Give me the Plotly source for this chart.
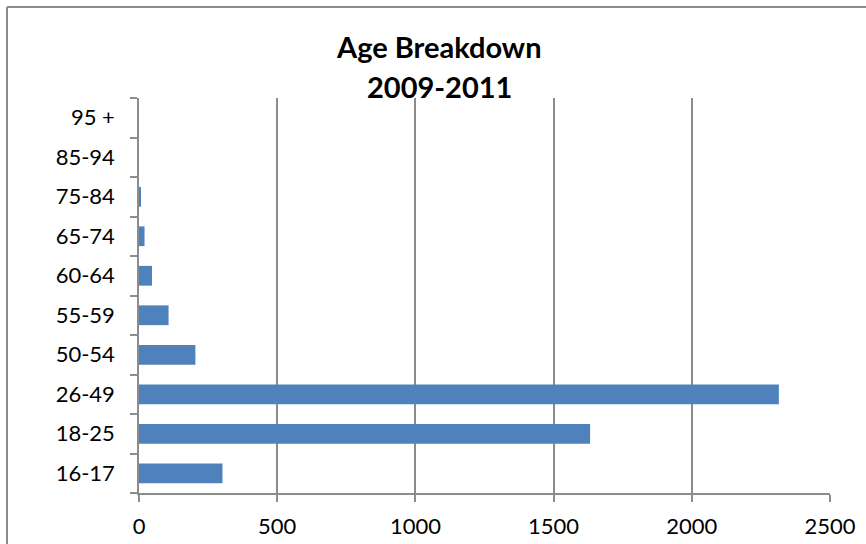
import plotly.graph_objects as go

# Age groups (bottom to top) and counts for 2009-2011
age_groups = ["16-17", "18-25", "26-49", "50-54", "55-59",
              "60-64", "65-74", "75-84", "85-94", "95 +"]
counts = [302, 1632, 2315, 204, 107, 47, 20, 6, 0, 0]
x_ticks = [0, 500, 1000, 1500, 2000, 2500]
title_lines = ["Age Breakdown", "2009-2011"]

FONT = "Lato"
GRID = "#8c8c8c"
BAR = "#4f81bd"

fig = go.Figure(
    go.Bar(
        y=age_groups,
        x=counts,
        orientation="h",
        marker=dict(color=BAR, line=dict(width=0)),
        width=0.5,
    )
)

# Plot-area geometry
L, R, T, B = 139, 36, 98, 51
W, H = 866, 544
pw, ph = W - L - R, H - T - B

# Two-line bold heading, placed in pixel terms above the plot area
title_y_px = [47, 86]
annotations = [
    dict(text=f"<b>{line}</b>", xref="paper", yref="paper",
         x=(439 - L) / pw, y=(H - B - ypx) / ph,
         xanchor="center", yanchor="middle", showarrow=False,
         font=dict(family=FONT, size=29, color="black"))
    for line, ypx in zip(title_lines, title_y_px)
]

fig.update_layout(
    width=W,
    height=H,
    margin=dict(l=L, r=R, t=T, b=B, pad=0),
    paper_bgcolor="white",
    plot_bgcolor="white",
    showlegend=False,
    font=dict(family=FONT, color="black", size=22),
    annotations=annotations,
    xaxis=dict(
        range=[0, 2500],
        tickvals=x_ticks,
        ticktext=[str(v) for v in x_ticks],
        showgrid=True,
        gridcolor=GRID,
        gridwidth=1.5,
        showline=True,
        linecolor=GRID,
        linewidth=1.5,
        ticks="outside",
        ticklen=7,
        tickcolor=GRID,
        tickwidth=1.5,
        zeroline=False,
        automargin=False,
        ticklabelstandoff=6,
        tickfont=dict(family=FONT, size=22),
    ),
    yaxis=dict(
        type="category",
        categoryorder="array",
        categoryarray=age_groups,
        showgrid=False,
        showline=True,
        linecolor=GRID,
        linewidth=1.5,
        ticks="outside",
        tickson="boundaries",
        ticklen=7,
        tickcolor=GRID,
        tickwidth=1.5,
        automargin=False,
        ticklabelstandoff=18,
        tickfont=dict(family=FONT, size=22),
    ),
    shapes=[
        # chart frame: left and top edges
        dict(type="line", xref="paper", yref="paper",
             x0=(7 - L) / pw, x1=(7 - L) / pw,
             y0=(H - B - 7) / ph, y1=(H - B - H - 10) / ph,
             line=dict(color="#8c8c8c", width=2)),
        dict(type="line", xref="paper", yref="paper",
             x0=(7 - L) / pw, x1=(W + 10 - L) / pw,
             y0=(H - B - 7) / ph, y1=(H - B - 7) / ph,
             line=dict(color="#8c8c8c", width=2)),
    ],
)

fig.write_html("out.html")
